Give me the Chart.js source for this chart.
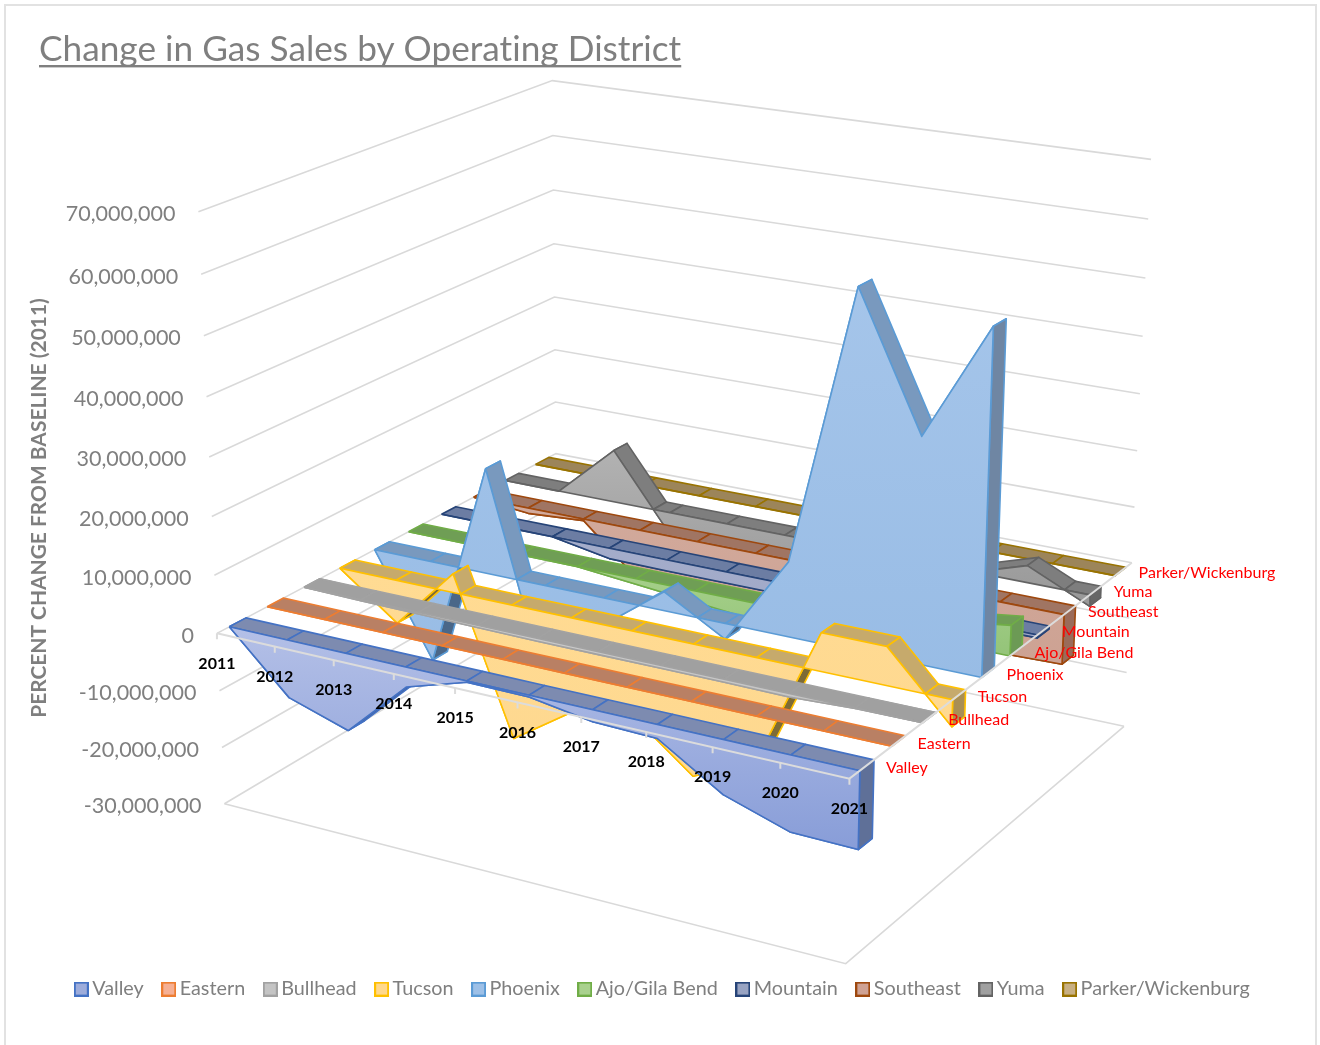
<!DOCTYPE html>
<html><head><meta charset="utf-8">
<script src="https://cdn.jsdelivr.net/npm/chart.js@4"></script>
<style>
html,body{margin:0;padding:0;background:#fff;overflow:hidden;width:1320px;height:1045px}
#frame{position:absolute;left:4px;top:4px;width:1313px;height:1080px;border:2px solid #e2e2e2;box-sizing:border-box}
canvas{position:absolute;left:0;top:0}
</style></head><body>
<div id="frame"></div>
<canvas id="c" width="1320" height="1045"></canvas>
<script>
const chartTitle = 'Change in Gas Sales by Operating District';
const yAxisTitle = 'PERCENT CHANGE FROM BASELINE (2011)';
const years = ['2011','2012','2013','2014','2015','2016','2017','2018','2019','2020','2021'];
const yTicks = [70000000,60000000,50000000,40000000,30000000,20000000,10000000,0,-10000000,-20000000,-30000000];
const seriesNames = ['Valley','Eastern','Bullhead','Tucson','Phoenix','Ajo/Gila Bend','Mountain','Southeast','Yuma','Parker/Wickenburg'];

const valley   = [0,-10000000,-13300000,-3400000,-200000,-300000,-2000000,-2300000,-9000000,-12500000,-12700000];
const eastern  = [0,0,0,0,0,0,0,0,0,0,0];
const bullhead = [0,-200000,-300000,-400000,-500000,-500000,-500000,-500000,-600000,-100000,0];
const tucson   = [0,-7700000,3300000,-23800000,-16600000,-14700000,-23000000,-18000000,6500000,6500000,-4500000];
const phoenix  = [0,-18000000,18600000,-18000000,-4700000,3300000,-2700000,12800000,60000000,37700000,57100000];
const ajo      = [0,0,0,0,-1000000,-2000000,-3000000,-3000000,-500000,3700000,5200000];
const mountain = [0,0,0,-1900000,-2000000,-2000000,-2000000,-2000000,-1000000,-600000,-500000];
const southeast= [0,-1000000,-300000,-9600000,-9600000,-9600000,-9600000,-9500000,-9300000,-9000000,-8700000];
const yuma     = [0,0,9600000,-4000000,-4500000,-4500000,-4500000,-4500000,-500000,3000000,-2000000];
const parker   = [0,0,0,0,0,0,0,0,0,0,0];
const seriesValues = [valley,eastern,bullhead,tucson,phoenix,ajo,mountain,southeast,yuma,parker];

// colours: edge, top strip, underside, end cap, face top, face bottom, legend fill
const edgeColors  = ['#4472c4','#ed7d31','#a2a2a2','#ffc000','#5b9bd5','#70ad47','#264478','#9e480e','#636363','#997300'];
const stripColors = ['#7d8bb0','#b98064','#a0a0a0','#c6aa6c','#7999be','#6f9e55','#6c7da3','#a07563','#7e7e7e','#9c855a'];
const underColors = ['#4d5c88','#8a5a40','#777777','#7d6b36','#4a6788','#4e7a36','#333f5c','#7a4a30','#555555','#6f5a30'];
const capColors   = ['#5f7098','#a06a50','#858585','#a88e55','#6f86a3','#6c9a55','#4d5f85','#9a6b5a','#666666','#85703f'];
const faceTop     = ['#b4c0e7','#f5b79a','#cccccc','#ffdb93','#a5c5ea','#aed592','#a5aecb','#d2aa9c','#b2b2b2','#cdb68a'];
const faceBottom  = ['#889dd8','#f5b79a','#c4c4c4','#fed88f','#98bce5','#94c479','#a0a8c8','#cda293','#989898','#cdb68a'];
const legendFill  = ['#9dacdb','#f6b094','#c4c4c4','#ffd88c','#9dc0e7','#a9d18e','#98a3c2','#cfa294','#a0a0a0','#c8b083'];

// camera fit: year/depth/value (tens of millions) mapped to page pixels
const cameraRefs = [
 [0,0,0,218,634],[1,0,0,849,777],[1,1,0,1132,562],[0,1,0,555,453],
 [0,0,7,197,212],[0,1,7,553,81],[1,1,7,1151,160],[1,0,-3,845,965],
 [1,1,-3,1124,726],[0,0,-3,225,805],[1,1,4,1143,337],[0,1,3,554,297],
 [0,0,3,210,455],[1,1,5,1146,278],[0,1,5,553,190]
];
function solveCamera(refs){
  const A=[],b=[];
  refs.forEach(([u,v,w,X,Y])=>{const x=X/1000,y=Y/1000;
    A.push([u,v,w,1,0,0,0,0,-x*u,-x*v,-x*w]);b.push(x);
    A.push([0,0,0,0,u,v,w,1,-y*u,-y*v,-y*w]);b.push(y);});
  const n=11,M=[];
  for(let i=0;i<n;i++){M[i]=[];for(let j=0;j<=n;j++){let s=0;
    for(let r=0;r<A.length;r++)s+=A[r][i]*(j<n?A[r][j]:b[r]);M[i][j]=s;}}
  for(let i=0;i<n;i++){let p=i;for(let r=i+1;r<n;r++)if(Math.abs(M[r][i])>Math.abs(M[p][i]))p=r;
    [M[i],M[p]]=[M[p],M[i]];
    for(let r=0;r<n;r++){if(r===i)continue;const f=M[r][i]/M[i][i];for(let j=i;j<=n;j++)M[r][j]-=f*M[i][j];}}
  return M.map((row,i)=>row[n]/row[i]);
}
const cam=solveCamera(cameraRefs);
function project(u,v,val){const w=val/1e7,d=cam[8]*u+cam[9]*v+cam[10]*w+1;
  return {x:1000*(cam[0]*u+cam[1]*v+cam[2]*w+cam[3])/d,y:1000*(cam[4]*u+cam[5]*v+cam[6]*w+cam[7])/d};}

const laneFront=i=>(i+0.32)/10, laneBack=i=>(i+0.76)/10, uOf=k=>k/(years.length-1);
const gradCtx=document.createElement('canvas').getContext('2d');
const painted=[];
function addLine(pts,color,width){painted.push({data:pts,borderColor:color,borderWidth:width,fill:false,pointRadius:0,clip:false,tension:0});}
function addPoly(pts,fillColor,edge,width){const closed=pts.concat([pts[0]]);
  painted.push({data:closed,backgroundColor:fillColor,borderColor:edge,borderWidth:width,fill:'shape',pointRadius:0,clip:false,tension:0,borderJoinStyle:'round'});}

// walls, floor
const gridColor='#d9d9d9';
yTicks.forEach(t=>addLine([project(0,0,t),project(0,1,t),project(1,1,t)],gridColor,1.6));
const low=yTicks[yTicks.length-1];
addLine([project(0,0,low),project(1,0,low),project(1,1,low)],gridColor,1.6);

// series, back to front
const legendFaceIndex={};
for(let s=seriesNames.length-1;s>=0;s--){
  const vals=seriesValues[s],vf=laneFront(s),vb=laneBack(s),edge=edgeColors[s],lw=1.6;
  const strip=(u0,w0,u1,w1,c)=>addPoly([project(u0,vf,w0),project(u1,vf,w1),project(u1,vb,w1),project(u0,vb,w0)],c,edge,lw);
  const negParts=[];
  for(let k=0;k<vals.length-1;k++){
    const u0=uOf(k),u1=uOf(k+1),w0=vals[k],w1=vals[k+1];
    if(w0*w1<0){const uc=u0+(u1-u0)*w0/(w0-w1);
      strip(u0,w0,uc,0,w0<0?underColors[s]:stripColors[s]);
      strip(uc,0,u1,w1,w1<0?underColors[s]:stripColors[s]);
      if(w0<0)negParts.push([u0,uc]);else negParts.push([uc,u1]);
    }else{
      const neg=w0<0||w1<0;
      strip(u0,w0,u1,w1,neg?underColors[s]:stripColors[s]);
      if(neg)negParts.push([u0,u1]);
    }
  }
  const last=vals[vals.length-1];
  if(last!==0)addPoly([project(1,vf,0),project(1,vb,0),project(1,vb,last),project(1,vf,last)],capColors[s],edge,lw);
  negParts.forEach(([a,b])=>strip(a,0,b,0,stripColors[s]));
  const face=vals.map((w,k)=>project(uOf(k),vf,w)).concat([project(1,vf,0),project(0,vf,0)]);
  const ys=face.map(p=>p.y),g=gradCtx.createLinearGradient(0,Math.min(...ys),0,Math.max(...ys));
  g.addColorStop(0,faceTop[s]);g.addColorStop(1,faceBottom[s]);
  legendFaceIndex[s]=painted.length;
  addPoly(face,g,edge,lw);
  painted[painted.length-1].label=seriesNames[s];
}
// axes on top of the data
const axisColor='#dcdcdc';
addLine([project(0,0,0),project(1,0,0),project(1,1,0)],axisColor,2);
years.forEach((y,k)=>{const p=project(uOf(k),0,0);addLine([p,{x:p.x,y:p.y+6}],axisColor,2);});
painted.forEach((d,i)=>{d.order=painted.length-i;});

function swatch(s){const c=document.createElement('canvas');c.width=15;c.height=15;const x=c.getContext('2d');
  x.fillStyle=legendFill[s];x.fillRect(1,1,13,13);x.strokeStyle=edgeColors[s];x.lineWidth=2;x.strokeRect(1,1,13,13);return c;}

const textLayer={id:'textLayer',
 beforeDraw(chart){chart.ctx.letterSpacing='0.02px';},
 afterDatasetsDraw(chart){
  const ctx=chart.ctx;ctx.save();
  // title underline
  ctx.font='35.2px Lato';const tw=ctx.measureText(chartTitle).width;
  ctx.fillStyle='#7f7f7f';ctx.fillRect(39,65,tw,2.4);
  // value ticks
  ctx.font='21.5px Lato';ctx.fillStyle='#7f7f7f';ctx.textAlign='right';ctx.textBaseline='middle';
  yTicks.forEach(t=>{const p=project(0,0,t);ctx.fillText(t.toLocaleString('en-US'),p.x-23,p.y+2.5);});
  // rotated axis title
  ctx.save();ctx.translate(39,508);ctx.rotate(-Math.PI/2);ctx.textAlign='center';
  ctx.font='bold 20.9px Lato';ctx.fillStyle='#7f7f7f';ctx.fillText(yAxisTitle,0,0);ctx.restore();
  // year labels
  ctx.font='bold 16px Lato';ctx.fillStyle='#000';ctx.textAlign='center';
  years.forEach((y,k)=>{const p=project(uOf(k),0,0);ctx.fillText(y,p.x,p.y+30);});
  // series labels
  ctx.font='16px Lato';ctx.fillStyle='#ff0000';ctx.textAlign='left';
  seriesNames.forEach((n,s)=>{const p=project(1,(laneFront(s)+laneBack(s))/2,0);
    ctx.fillText(n,p.x+19-s/9,p.y+3-2*s/9);});
  ctx.restore();
}};

const chart=new Chart(document.getElementById('c'),{
  type:'line',
  data:{datasets:painted},
  plugins:[textLayer],
  options:{
    responsive:false,animation:false,events:[],
    layout:{padding:{left:39,right:29,top:0,bottom:36}},
    scales:{
      x:{type:'linear',display:false,min:0,max:1320},
      y:{type:'linear',display:false,reverse:true,min:0,max:1045}
    },
    plugins:{
      tooltip:{enabled:false},
      title:{display:true,text:chartTitle,align:'start',color:'#7f7f7f',
        font:{family:'Lato',size:35.2,weight:'normal'},padding:{top:29,bottom:4}},
      legend:{display:true,position:'bottom',
        labels:{usePointStyle:true,pointStyleWidth:2,padding:24,color:'#7f7f7f',
          font:{family:'Lato',size:19.8},
          generateLabels:()=>seriesNames.map((n,s)=>({text:n,pointStyle:swatch(s),datasetIndex:legendFaceIndex[s],hidden:false,fontColor:'#7f7f7f'}))}}
    }
  }
});
const a=chart.chartArea;
chart.options.scales.x.min=a.left;chart.options.scales.x.max=a.right;
chart.options.scales.y.min=a.top;chart.options.scales.y.max=a.bottom;
chart.update('none');
</script>
</body></html>
